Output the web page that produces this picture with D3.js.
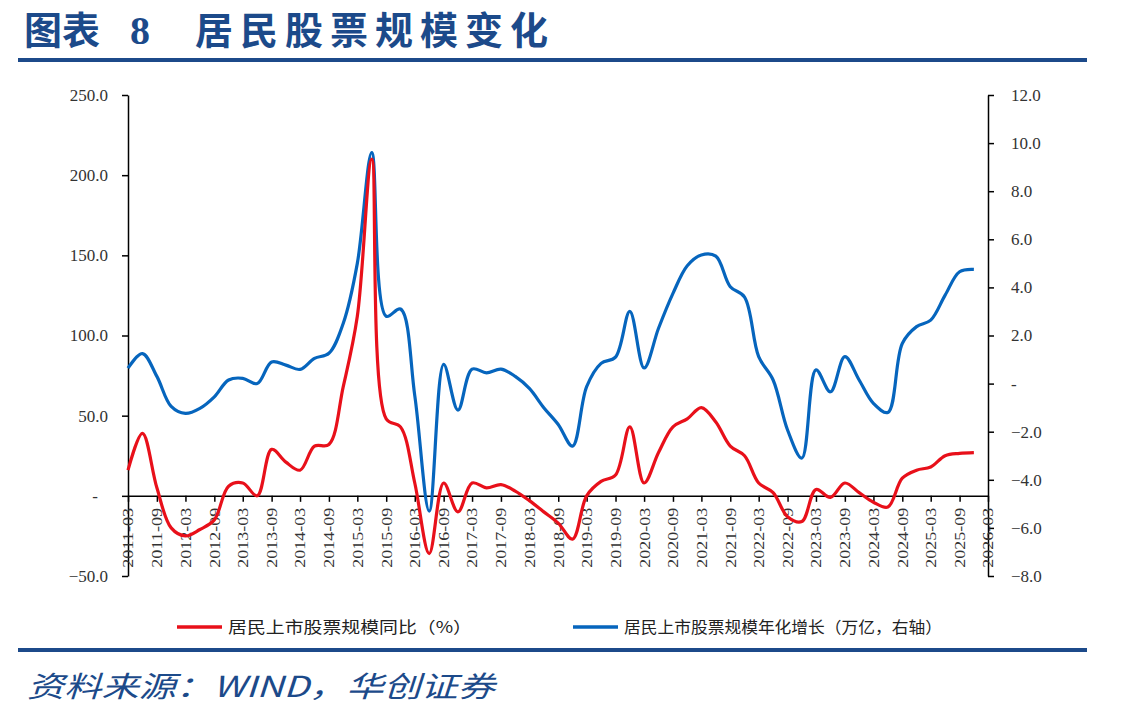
<!DOCTYPE html>
<html>
<head>
<meta charset="utf-8">
<script src="https://cdn.jsdelivr.net/npm/d3@7"></script>
<style>
  body { margin: 0; background: #fff; }
  svg { display: block; }
</style>
</head>
<body>
<script>
const W = 1145, H = 718

// quarter-end periods
const periods = [
  "2011-03","2011-06","2011-09","2011-12","2012-03","2012-06","2012-09","2012-12",
  "2013-03","2013-06","2013-09","2013-12","2014-03","2014-06","2014-09","2014-12",
  "2015-03","2015-06","2015-09","2015-12","2016-03","2016-06","2016-09","2016-12",
  "2017-03","2017-06","2017-09","2017-12","2018-03","2018-06","2018-09","2018-12",
  "2019-03","2019-06","2019-09","2019-12","2020-03","2020-06","2020-09","2020-12",
  "2021-03","2021-06","2021-09","2021-12","2022-03","2022-06","2022-09","2022-12",
  "2023-03","2023-06","2023-09","2023-12","2024-03","2024-06","2024-09","2024-12",
  "2025-03","2025-06","2025-09","2025-12"
]

// 居民上市股票规模同比 (%), left axis
const yoy = [
  16, 39, 5, -20, -25, -21, -15, 6,
  8, 0, 29, 21, 16, 31, 32, 68,
  112, 210, 48, 43, 8, -36, 8, -10,
  8, 5, 7, 3, -3, -10, -17, -27,
  0, 9, 13, 43, 8, 27, 43, 48,
  55, 46, 31, 25, 8, 2, -13, -16,
  4, -1, 8, 2, -4, -7, 11, 16,
  18, 25, 26.5, 27
]

// 居民上市股票规模年化增长 (万亿), right axis
const growth = [
  0.64, 1.25, 0.3, -0.95, -1.24, -1.03, -0.55, 0.15,
  0.22, 0.0, 0.9, 0.77, 0.59, 1.05, 1.26, 2.5,
  5.0, 9.6, 2.8, 3.1, -0.5, -5.3, 0.8, -1.1,
  0.6, 0.45, 0.6, 0.3, -0.2, -1.0, -1.7, -2.6,
  -0.13, 0.84, 1.1, 3.0, 0.65, 2.3, 3.75, 4.9,
  5.35, 5.3, 4.03, 3.6, 1.12, 0.15, -1.93, -3.1,
  0.57, -0.34, 1.12, 0.15, -0.82, -1.2, 1.67, 2.37,
  2.64, 3.68, 4.65, 4.75
]

// x axis tick labels (every 6 months)
const xTicks = [
  "2011-03","2011-09","2012-03","2012-09","2013-03","2013-09","2014-03","2014-09",
  "2015-03","2015-09","2016-03","2016-09","2017-03","2017-09","2018-03","2018-09",
  "2019-03","2019-09","2020-03","2020-09","2021-03","2021-09","2022-03","2022-09",
  "2023-03","2023-09","2024-03","2024-09","2025-03","2025-09","2026-03"
]
const leftTicks = [-50, 0, 50, 100, 150, 200, 250]
const rightTicks = [-8, -6, -4, -2, 0, 2, 4, 6, 8, 10, 12]

const legendLabels = ["居民上市股票规模同比（%）", "居民上市股票规模年化增长（万亿，右轴）"]

const navy = "#1c4a8a"
const red = "#e8101a"
const blue = "#0665bd"

const parse = d3.timeParse("%Y-%m")

const svg = d3.select("body").append("svg")
  .attr("width", W)
  .attr("height", H)

// title
const title = svg.append("g")
  .attr("fill", navy)
  .attr("font-family", "Noto Sans CJK SC")
  .attr("font-weight", 700)
  .attr("font-size", 38)
title.append("text").attr("x", 24).attr("y", 44).text("图表")
title.append("text").attr("x", 130).attr("y", 44).attr("font-family", "Liberation Serif").attr("font-size", 40).text("8")
title.append("text").attr("x", 195).attr("y", 44)
  .attr("textLength", 353).attr("lengthAdjust", "spacing")
  .text("居民股票规模变化")

svg.append("rect").attr("x", 18).attr("y", 58).attr("width", 1069).attr("height", 4).attr("fill", navy)
svg.append("rect").attr("x", 18).attr("y", 648).attr("width", 1069).attr("height", 4).attr("fill", navy)

// source
svg.append("text")
  .attr("x", 27).attr("y", 697)
  .attr("fill", navy)
  .attr("font-family", "Noto Sans CJK SC")
  .attr("font-style", "italic")
  .attr("font-size", 29)
  .attr("textLength", 468).attr("lengthAdjust", "spacingAndGlyphs")
  .text("资料来源：WIND，华创证券")

// scales
const x = d3.scaleTime()
  .domain([parse("2011-03"), parse("2026-03")])
  .range([128, 988])
const yL = d3.scaleLinear().domain([-50, 250]).range([576, 95])
const yR = d3.scaleLinear().domain([-8, 12]).range([576, 95])

const fmt = d => d === 0 ? "-" : d3.format(".1f")(d)

// left axis
const gL = svg.append("g")
  .attr("transform", "translate(128,0)")
  .call(d3.axisLeft(yL).tickValues(leftTicks).tickFormat(fmt).tickSize(6).tickSizeOuter(0).tickPadding(14))
gL.selectAll("text")
  .attr("font-family", "Liberation Serif")
  .attr("font-size", 17)
  .attr("fill", "#333")
  .attr("dx", d => d === 0 ? -10 : 0)

// right axis
const gR = svg.append("g")
  .attr("transform", "translate(988,0)")
  .call(d3.axisRight(yR).tickValues(rightTicks).tickFormat(fmt).tickSize(6).tickSizeOuter(0).tickPadding(17))
gR.selectAll("text")
  .attr("font-family", "Liberation Serif")
  .attr("font-size", 17)
  .attr("fill", "#333")

// x axis at zero of left axis
const gX = svg.append("g")
  .attr("transform", "translate(0," + yL(0) + ")")
  .call(d3.axisBottom(x).tickValues(xTicks.map(parse)).tickFormat(d3.timeFormat("%Y-%m")).tickSize(6).tickSizeOuter(0))
gX.selectAll("text")
  .attr("font-family", "Liberation Serif")
  .attr("font-size", 14)
  .attr("fill", "#333")
  .attr("text-anchor", "end")
  .attr("textLength", 60).attr("lengthAdjust", "spacingAndGlyphs")
  .attr("transform", "translate(0,12) rotate(-90)")
  .attr("x", 0).attr("y", 0).attr("dy", "0.35em")

svg.selectAll(".domain, .tick line").attr("stroke", "#000").attr("stroke-width", 1.5)

// lines
const lineR = d3.line()
  .x((d, i) => x(parse(periods[i])))
  .y(d => yR(d))
  .curve(d3.curveCatmullRom)
const lineL = d3.line()
  .x((d, i) => x(parse(periods[i])))
  .y(d => yL(d))
  .curve(d3.curveCatmullRom)

svg.append("path").datum(growth)
  .attr("d", lineR)
  .attr("fill", "none").attr("stroke", blue).attr("stroke-width", 3.2)
  .attr("stroke-linejoin", "round")
svg.append("path").datum(yoy)
  .attr("d", lineL)
  .attr("fill", "none").attr("stroke", red).attr("stroke-width", 3.2)
  .attr("stroke-linejoin", "round")

// legend
const legendX = [177, 573]
const legendLen = [244, 318]
const legendColors = [red, blue]
const lg = svg.append("g")
legendLabels.forEach((t, i) => {
  lg.append("line")
    .attr("x1", legendX[i]).attr("x2", legendX[i] + 45)
    .attr("y1", 627).attr("y2", 627)
    .attr("stroke", legendColors[i]).attr("stroke-width", 3.5)
  lg.append("text")
    .attr("x", legendX[i] + 51).attr("y", 627).attr("dy", "0.36em")
    .attr("font-family", "Noto Sans CJK SC")
    .attr("font-size", 16)
    .attr("fill", "#222")
    .attr("textLength", legendLen[i]).attr("lengthAdjust", "spacingAndGlyphs")
    .text(t)
})
</script>
</body>
</html>
